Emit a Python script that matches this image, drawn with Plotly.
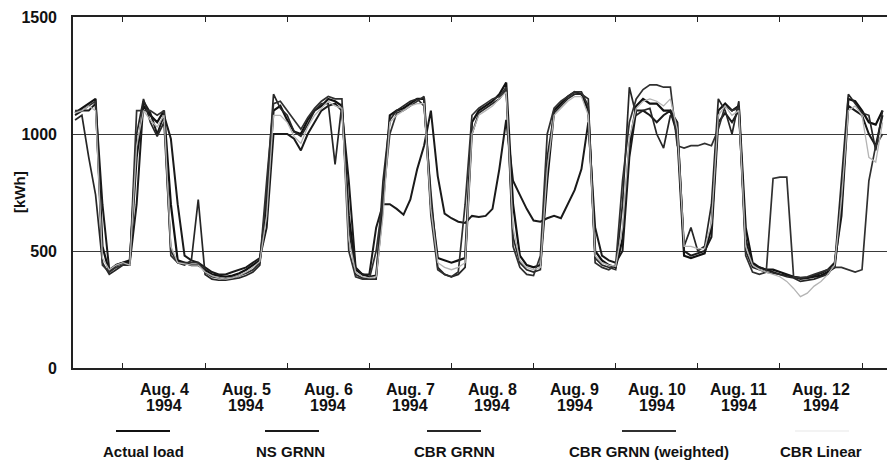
import plotly.graph_objects as go

# Hours relative to Aug. 4 1994 00:00, sampled every 2 hours
hours = list(range(-14, 223, 2))

# Hourly electric load and forecasts [kWh]
actual_load = [
    1090, 1110, 1130, 1150, 520, 410, 440,                                  # Aug 3 (part)
    450, 460, 900, 1120, 1080, 1050, 1100, 700, 460, 450, 440, 440,         # Aug 4
    420, 400, 395, 390, 395, 405, 420, 440, 460, 700, 1100, 1120,           # Aug 5
    1060, 1010, 1000, 1060, 1100, 1120, 1150, 1140, 1120, 650, 420, 400,    # Aug 6
    390, 395, 700, 1080, 1100, 1110, 1130, 1150, 1150, 700, 470, 460,       # Aug 7
    450, 460, 470, 1050, 1100, 1120, 1140, 1170, 1220, 700, 480, 440,       # Aug 8
    430, 440, 800, 1100, 1130, 1160, 1180, 1170, 1100, 500, 460, 440,       # Aug 9
    430, 550, 950, 1120, 1150, 1130, 1130, 1100, 1100, 1000, 480, 470,      # Aug 10
    480, 490, 600, 1100, 1130, 1100, 1120, 600, 450, 430, 420, 420,         # Aug 11
    410, 400, 390, 385, 385, 390, 395, 410, 430, 700, 1150, 1140,           # Aug 12
    1100, 1050, 1040, 1100,                                                 # Aug 13 (part)
]
ns_grnn = [
    1080, 1100, 1100, 1130, 700, 420, 440,
    450, 450, 700, 1140, 1090, 1000, 1080, 980, 700, 480, 460, 450,
    430, 410, 400, 400, 410, 420, 430, 450, 470, 600, 1000, 1000,
    1000, 980, 930, 1000, 1050, 1100, 1120, 1130, 1100, 800, 430, 400,
    400, 600, 700, 700, 680, 655, 720, 850, 950, 1100, 820, 660,
    640, 625, 620, 650, 645, 650, 680, 850, 1060, 800, 740, 680,
    630, 625, 640, 650, 640, 700, 760, 850, 1050, 600, 480, 460,
    450, 500, 900, 1100, 1100, 1080, 1050, 1080, 1100, 1050, 500, 480,
    490, 500, 560, 1050, 1090, 1050, 1100, 550, 440, 430, 420, 410,
    400, 395, 390, 380, 385, 395, 405, 420, 450, 650, 1120, 1100,
    1080, 1000, 950, 1080,
]
cbr_grnn = [
    1060, 1080, 900, 740, 450, 400, 420,
    440, 450, 1000, 1150, 1050, 990, 1050, 500, 450, 440, 460, 720,
    400, 380, 375, 375, 380, 385, 395, 410, 440, 750, 1170, 1110,
    1080, 1010, 990, 1040, 1100, 1130, 1130, 870, 1130, 600, 400, 385,
    380, 380, 800, 1060, 1100, 1120, 1140, 1150, 1120, 750, 430, 400,
    390, 400, 430, 1000, 1090, 1110, 1130, 1150, 1190, 560, 450, 420,
    410, 420, 900, 1090, 1120, 1150, 1170, 1170, 1150, 470, 440, 430,
    420, 700, 1200, 1080, 1100, 1110, 1000, 940, 1080, 1050, 520, 600,
    500, 520, 700, 1150, 1100, 1000, 1140, 500, 430, 420, 410, 405,
    400, 390, 385, 370, 375, 380, 390, 400, 440, 800, 1170, 1130,
    1090, 1080, 930, 1100,
]
cbr_grnn_weighted = [
    1100, 1100, 1120, 1140, 440, 410, 430,
    440, 440, 1100, 1100, 1100, 1080, 1100, 480, 450, 450, 450, 450,
    410, 390, 385, 380, 385, 395, 405, 420, 450, 800, 1130, 1140,
    1100, 1060, 1020, 1070, 1110, 1140, 1160, 1150, 1150, 500, 390, 380,
    380, 500, 720, 1000, 1090, 1100, 1120, 1140, 1160, 650, 420, 400,
    390, 410, 700, 1080, 1110, 1130, 1150, 1160, 1200, 520, 430, 400,
    395, 480, 1000, 1110, 1140, 1160, 1180, 1180, 1120, 450, 430, 420,
    440, 800, 1050, 1150, 1190, 1210, 1210, 1200, 1200, 950, 940, 950,
    950, 960, 950, 1020, 1120, 1100, 1110, 480, 410, 400, 410, 810,
    816, 816, 390, 385, 390, 400, 410, 420, 430, 430, 420, 410,
    420, 800, 950, 1000,
]
cbr_linear = [
    1090, 1100, 1120, 1100, 470, 420, 440,
    450, 440, 950, 1100, 1060, 1030, 1080, 520, 450, 445, 440, 440,
    410, 395, 385, 380, 385, 395, 410, 430, 455, 650, 1080, 1080,
    1050, 990, 960, 1030, 1080, 1110, 1140, 1120, 1110, 550, 410, 390,
    385, 390, 650, 1050, 1080, 1100, 1120, 1130, 1130, 680, 450, 430,
    420, 430, 450, 1000, 1080, 1100, 1120, 1150, 1180, 600, 460, 430,
    420, 430, 850, 1080, 1110, 1140, 1160, 1160, 1080, 480, 450, 440,
    435, 600, 980, 1110, 1140, 1150, 1140, 1120, 1150, 1020, 520, 520,
    510, 510, 620, 1080, 1120, 1080, 1100, 520, 440, 420, 410, 400,
    390, 370, 340, 305, 320, 350, 370, 400, 440, 720, 1100, 1120,
    1080, 900, 880, 1050,
]

series_names = ["Actual load", "NS GRNN", "CBR GRNN", "CBR GRNN (weighted)", "CBR Linear"]
series_values = [actual_load, ns_grnn, cbr_grnn, cbr_grnn_weighted, cbr_linear]
series_colors = ["#111111", "#1a1a1a", "#262626", "#303030", "#b4b4b4"]
legend_line_colors = ["#111111", "#1a1a1a", "#262626", "#303030", "#f3f3f3"]
series_widths = [2.2, 2.0, 1.7, 1.7, 1.3]

day_ticks = list(range(0, 217, 24))          # midnights, Aug 4 .. Aug 13
day_label_hours = list(range(12, 205, 24))   # noon, Aug 4 .. Aug 12
day_labels = ["Aug. 4", "Aug. 5", "Aug. 6", "Aug. 7", "Aug. 8",
              "Aug. 9", "Aug. 10", "Aug. 11", "Aug. 12"]
year_label = "1994"

y_ticks = [0, 500, 1000, 1500]
y_tick_text = ["0", "500", "1000", "1500"]

FONT = "Arial, Liberation Sans, sans-serif"

fig = go.Figure()
for name, vals, col, w in zip(series_names, series_values, series_colors, series_widths):
    fig.add_trace(go.Scatter(x=hours, y=vals, mode="lines", name=name,
                             line=dict(color=col, width=w), showlegend=False))

W, H = 887, 461
ml, mr, mt, mb = 73, 0, 17, 93
pw, ph = W - ml - mr, H - mt - mb

def px_x(px):
    return (px - ml) / pw

def px_y(py):
    return (H - mb - py) / ph

fig.update_layout(
    width=W, height=H,
    margin=dict(l=ml, r=mr, t=mt, b=mb),
    paper_bgcolor="white", plot_bgcolor="white",
    font=dict(family=FONT, color="#111111"),
    xaxis=dict(range=[-14.6, 223.3], tickvals=day_ticks, showticklabels=False,
               ticks="inside", ticklen=5, tickwidth=1.3, tickcolor="#222222",
               showline=True, linecolor="#222222", linewidth=1.6, mirror="ticks",
               showgrid=False, zeroline=False),
    yaxis=dict(range=[0, 1500], tickvals=y_ticks, ticktext=y_tick_text,
               ticks="", ticklabelstandoff=11,
               tickfont=dict(size=16, family=FONT, weight="bold", color="#111111"),
               showline=True, linecolor="#222222", linewidth=1.6,
               showgrid=True, gridcolor="#3a3a3a", gridwidth=1.3, zeroline=False),
)

annotations = []
for hx, lab in zip(day_label_hours, day_labels):
    annotations.append(dict(x=hx, y=px_y(389), xref="x", yref="paper", text=lab,
                            showarrow=False, xanchor="center", yanchor="middle",
                            font=dict(size=16, family=FONT, weight="bold", color="#111111")))
    annotations.append(dict(x=hx, y=px_y(405), xref="x", yref="paper", text=year_label,
                            showarrow=False, xanchor="center", yanchor="middle",
                            font=dict(size=16, family=FONT, weight="bold", color="#111111")))

annotations.append(dict(x=px_x(19), y=px_y(192), xref="paper", yref="paper", text="[kWh]",
                        textangle=-90, showarrow=False, xanchor="center", yanchor="middle",
                        font=dict(size=15, family=FONT, weight="bold", color="#111111")))

# Legend: a short line sample above each series name
legend_centers = [143, 292, 454, 649, 822]
legend_text_centers = [143, 290, 454, 649, 821]
shapes = []
for name, cx, tx, col in zip(series_names, legend_centers, legend_text_centers, legend_line_colors):
    shapes.append(dict(type="line", xref="paper", yref="paper",
                       x0=px_x(cx - 27), x1=px_x(cx + 27), y0=px_y(431), y1=px_y(431),
                       line=dict(color=col, width=2.2)))
    annotations.append(dict(x=px_x(tx), y=px_y(451), xref="paper", yref="paper", text=name,
                            showarrow=False, xanchor="center", yanchor="middle",
                            font=dict(size=15, family=FONT, weight="bold", color="#111111")))

fig.update_layout(annotations=annotations, shapes=shapes)
fig.write_html("out.html")
